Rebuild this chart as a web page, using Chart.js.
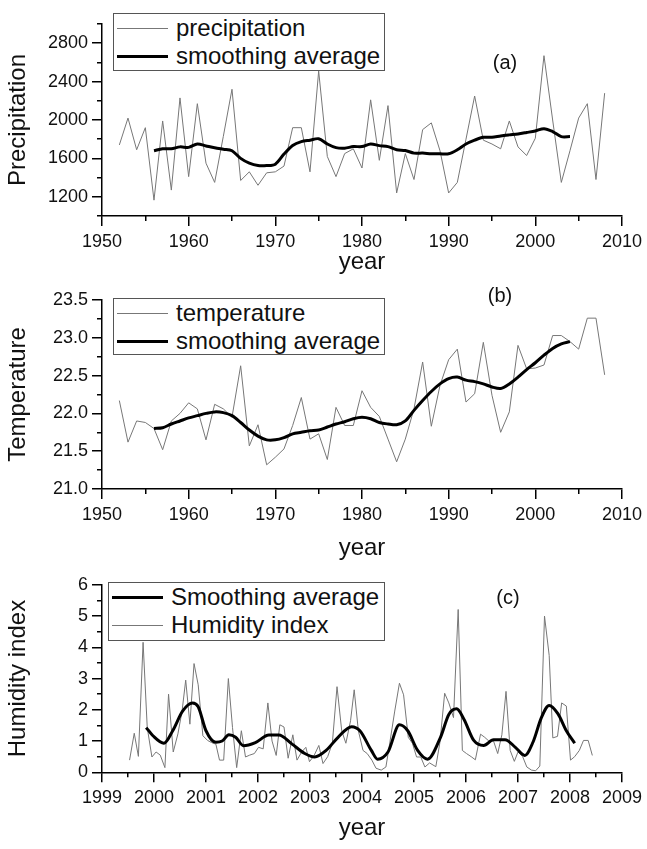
<!DOCTYPE html>
<html>
<head>
<meta charset="utf-8">
<script src="https://cdn.jsdelivr.net/npm/chart.js@4.4.1/dist/chart.umd.min.js"></script>
<style>
  body { margin: 0; background: #fff; }
  #wrap { position: relative; width: 647px; height: 849px; font-family: "Liberation Sans", Arial, sans-serif; }
  canvas { position: absolute; left: 0; }
  .legend { position: absolute; border: 1px solid #555; background: #fff; font-size: 24px; color: #111; }
  .row { display: flex; align-items: center; height: 28px; }
  .sample { width: 51px; margin: 0 8px 0 3px; }
  .thin { border-top: 1px solid #777; }
  .thick { border-top: 3px solid #000; }
  .tag { position: absolute; font-size: 20px; color: #111; transform: translate(-50%, -50%); }
</style>
</head>
<body>
<div id="wrap">
  <canvas id="chartA" width="647" height="285" style="top:0"></canvas>
  <canvas id="chartB" width="647" height="285" style="top:285px"></canvas>
  <canvas id="chartC" width="647" height="279" style="top:570px"></canvas>

  <div class="legend" style="left:113px; top:13px; width:270px; height:56px;">
    <div class="row"><div class="sample thin"></div>precipitation</div>
    <div class="row"><div class="sample thick"></div>smoothing average</div>
  </div>
  <div class="legend" style="left:113px; top:298px; width:270px; height:55px;">
    <div class="row"><div class="sample thin"></div>temperature</div>
    <div class="row"><div class="sample thick"></div>smoothing average</div>
  </div>
  <div class="legend" style="left:108px; top:582px; width:275px; height:57px;">
    <div class="row"><div class="sample thick"></div>Smoothing average</div>
    <div class="row"><div class="sample thin"></div>Humidity index</div>
  </div>
  <div class="tag" style="left:505px; top:62px;">(a)</div>
  <div class="tag" style="left:500px; top:295px;">(b)</div>
  <div class="tag" style="left:508px; top:597px;">(c)</div>
</div>
<script>
const years = [1952, 1953, 1954, 1955, 1956, 1957, 1958, 1959, 1960, 1961, 1962, 1963, 1964, 1965, 1966, 1967, 1968, 1969, 1970, 1971, 1972, 1973, 1974, 1975, 1976, 1977, 1978, 1979, 1980, 1981, 1982, 1983, 1984, 1985, 1986, 1987, 1988, 1989, 1990, 1991, 1992, 1993, 1994, 1995, 1996, 1997, 1998, 1999, 2000, 2001, 2002, 2003, 2004, 2005, 2006, 2007, 2008];
const smoothYears = [1956, 1957, 1958, 1959, 1960, 1961, 1962, 1963, 1964, 1965, 1966, 1967, 1968, 1969, 1970, 1971, 1972, 1973, 1974, 1975, 1976, 1977, 1978, 1979, 1980, 1981, 1982, 1983, 1984, 1985, 1986, 1987, 1988, 1989, 1990, 1991, 1992, 1993, 1994, 1995, 1996, 1997, 1998, 1999, 2000, 2001, 2002, 2003, 2004];

const precipitation = [1740, 2020, 1690, 1920, 1165, 1990, 1270, 2230, 1410, 2170, 1550, 1350, 1830, 2320, 1370, 1460, 1320, 1450, 1460, 1520, 1920, 1920, 1460, 2510, 1620, 1410, 1650, 1700, 1500, 2210, 1580, 2150, 1240, 1650, 1380, 1900, 1970, 1680, 1240, 1350, 1800, 2250, 1790, 1750, 1700, 1990, 1720, 1630, 1810, 2670, 2000, 1350, 1680, 2020, 2170, 1380, 2280];
const precipSmooth = [1680, 1700, 1700, 1720, 1715, 1750, 1730, 1710, 1695, 1680, 1600, 1550, 1525, 1525, 1540, 1645, 1735, 1775, 1790, 1805, 1750, 1712, 1706, 1723, 1723, 1750, 1733, 1723, 1690, 1682, 1655, 1655, 1648, 1648, 1648, 1690, 1750, 1790, 1820, 1820, 1834, 1845, 1855, 1870, 1886, 1910, 1880, 1827, 1827];

const temperature = [22.17, 21.62, 21.9, 21.88, 21.8, 21.52, 21.9, 22.0, 22.14, 22.06, 21.65, 22.12, 22.06, 21.95, 22.63, 21.57, 21.85, 21.32, 21.42, 21.53, 21.84, 22.21, 21.66, 21.73, 21.39, 22.08, 21.84, 21.84, 22.3, 22.08, 21.96, 21.66, 21.36, 21.66, 22.06, 22.68, 21.83, 22.37, 22.71, 22.85, 22.15, 22.26, 22.94, 22.24, 21.75, 22.02, 22.9, 22.59, 22.6, 22.64, 23.03, 23.03, 22.95, 22.85, 23.26, 23.26, 22.51];
const tempSmooth = [21.80, 21.81, 21.86, 21.90, 21.94, 21.97, 22.00, 22.02, 22.01, 21.97, 21.88, 21.78, 21.70, 21.65, 21.65, 21.68, 21.73, 21.75, 21.77, 21.78, 21.82, 21.86, 21.89, 21.93, 21.95, 21.93, 21.88, 21.86, 21.85, 21.90, 22.04, 22.17, 22.29, 22.39, 22.46, 22.48, 22.44, 22.42, 22.39, 22.35, 22.33, 22.39, 22.48, 22.58, 22.67, 22.77, 22.86, 22.92, 22.95];

const humidityX = [1999.53, 1999.62, 1999.70, 1999.79, 1999.87, 1999.96, 2000.04, 2000.12, 2000.21, 2000.28, 2000.37, 2000.46, 2000.54, 2000.61, 2000.69, 2000.77, 2000.85, 2000.94, 2001.03, 2001.11, 2001.19, 2001.26, 2001.34, 2001.43, 2001.51, 2001.59, 2001.68, 2001.76, 2001.84, 2001.93, 2002.01, 2002.10, 2002.19, 2002.27, 2002.35, 2002.42, 2002.50, 2002.58, 2002.67, 2002.75, 2002.84, 2002.92, 2002.99, 2003.08, 2003.17, 2003.25, 2003.34, 2003.43, 2003.52, 2003.61, 2003.69, 2003.78, 2003.85, 2003.93, 2004.02, 2004.10, 2004.19, 2004.27, 2004.37, 2004.46, 2004.54, 2004.63, 2004.72, 2004.80, 2004.89, 2004.97, 2005.05, 2005.13, 2005.21, 2005.30, 2005.42, 2005.50, 2005.59, 2005.67, 2005.76, 2005.85, 2005.93, 2006.01, 2006.10, 2006.18, 2006.28, 2006.36, 2006.44, 2006.53, 2006.61, 2006.69, 2006.77, 2006.85, 2006.93, 2007.00, 2007.09, 2007.17, 2007.26, 2007.34, 2007.42, 2007.51, 2007.60, 2007.67, 2007.76, 2007.84, 2007.93, 2008.01, 2008.09, 2008.18, 2008.26, 2008.35, 2008.43];
const humidity = [0.39, 1.25, 0.51, 4.16, 1.43, 0.49, 0.65, 0.55, 0.15, 2.5, 0.65, 1.23, 1.96, 2.95, 1.54, 3.48, 2.8, 1.17, 1.02, 0.95, 0.9, 0.39, 0.39, 3.0, 1.43, 0.15, 1.33, 0.49, 0.55, 0.6, 0.8, 0.75, 2.22, 1.0, 0.54, 1.52, 1.45, 0.45, 1.2, 0.39, 0.65, 0.8, 0.34, 0.54, 0.86, 0.28, 0.5, 0.93, 2.74, 1.33, 0.93, 1.65, 2.64, 1.33, 0.7, 0.6, 0.39, 0.13, 0.07, 0.17, 1.0, 1.96, 2.85, 2.48, 1.12, 0.93, 0.49, 0.49, 0.17, 0.3, 0.18, 0.97, 2.53, 2.22, 1.75, 5.21, 0.7, 0.6, 0.5, 0.4, 1.22, 1.12, 1.0, 1.0, 0.6, 1.2, 2.59, 0.7, 0.35, 0.65, 0.5, 0.17, 0.07, 0.05, 0.2, 5.0, 3.74, 1.1, 1.15, 2.22, 2.12, 0.39, 0.5, 0.7, 1.02, 1.02, 0.54];
const humSmoothX = [1999.85, 1999.98, 2000.19, 2000.36, 2000.55, 2000.74, 2000.85, 2001.00, 2001.19, 2001.31, 2001.44, 2001.57, 2001.72, 2001.95, 2002.21, 2002.40, 2002.65, 2002.90, 2003.09, 2003.31, 2003.54, 2003.80, 2003.96, 2004.18, 2004.30, 2004.50, 2004.72, 2004.88, 2005.07, 2005.26, 2005.51, 2005.67, 2005.82, 2005.96, 2006.15, 2006.34, 2006.53, 2006.75, 2006.95, 2007.13, 2007.29, 2007.45, 2007.60, 2007.77, 2007.93, 2008.09];
const humSmooth = [1.43, 1.17, 0.93, 1.33, 1.96, 2.22, 2.10, 1.33, 0.96, 1.0, 1.2, 1.12, 0.85, 0.95, 1.19, 1.19, 0.91, 0.6, 0.49, 0.7, 1.12, 1.46, 1.33, 0.7, 0.42, 0.65, 1.52, 1.33, 0.7, 0.42, 1.12, 1.85, 2.03, 1.7, 1.02, 0.86, 1.04, 1.04, 0.8, 0.54, 0.97, 1.75, 2.14, 1.87, 1.33, 0.93];

// tick positions
const yearTicks = [1950, 1960, 1970, 1980, 1990, 2000, 2010];
const yearMinor = [1955, 1965, 1975, 1985, 1995, 2005];
const precipTicks = [1200, 1600, 2000, 2400, 2800];
const precipMinor = [1000, 1400, 1800, 2200, 2600, 3000];
const tempTicks = [21.0, 21.5, 22.0, 22.5, 23.0, 23.5];
const tempMinor = [21.25, 21.75, 22.25, 22.75, 23.25];
const humYearTicks = [1999, 2000, 2001, 2002, 2003, 2004, 2005, 2006, 2007, 2008, 2009];
const humYearMinor = [1999.5, 2000.5, 2001.5, 2002.5, 2003.5, 2004.5, 2005.5, 2006.5, 2007.5, 2008.5];
const humTicks = [0, 1, 2, 3, 4, 5, 6];
const humMinor = [0.5, 1.5, 2.5, 3.5, 4.5, 5.5];

const FONT = "'Liberation Sans', Arial, sans-serif";

function pairs(xs, ys) {
  return xs.map((x, i) => ({ x: x, y: ys[i] }));
}

function setTicks(list) {
  return (scale) => { scale.ticks = list.map((v) => ({ value: v })); };
}

function buildChart(id, opt) {
  const xMajor = {
    type: "linear", position: "bottom", weight: 1,
    min: opt.xMin, max: opt.xMax,
    afterBuildTicks: setTicks(opt.xTicks),
    afterFit: (s) => { s.height = opt.xHeight; },
    grid: { drawOnChartArea: false, tickLength: 10, tickColor: "#000", lineWidth: 1.5 },
    border: { color: "#000", width: 1.5 },
    ticks: { color: "#111", font: { family: FONT, size: 18 }, padding: 5, maxRotation: 0, callback: (v) => String(v) },
    title: { display: true, text: "year", color: "#111", font: { family: FONT, size: 24 }, padding: { bottom: opt.xTitlePad } },
  };
  const xMinor = {
    type: "linear", position: "bottom", weight: 0,
    min: opt.xMin, max: opt.xMax,
    afterBuildTicks: setTicks(opt.xMinor),
    afterFit: (s) => { s.height = 0; },
    grid: { drawOnChartArea: false, tickLength: 5, tickColor: "#000", lineWidth: 1.5 },
    border: { display: false },
    ticks: { display: false },
  };
  const yMajor = {
    type: "linear", position: "left", weight: 1,
    min: opt.yMin, max: opt.yMax,
    afterBuildTicks: setTicks(opt.yTicks),
    afterFit: (s) => { s.width = 102; },
    grid: { drawOnChartArea: false, tickLength: 10, tickColor: "#000", lineWidth: 1.5 },
    border: { color: "#000", width: 1.5 },
    ticks: { color: "#111", font: { family: FONT, size: 18 }, padding: 4, callback: opt.yFormat },
    title: { display: true, text: opt.yTitle, color: "#111", font: { family: FONT, size: 24 }, padding: { top: 4 } },
  };
  const yMinor = {
    type: "linear", position: "left", weight: 0,
    min: opt.yMin, max: opt.yMax,
    afterBuildTicks: setTicks(opt.yMinor),
    afterFit: (s) => { s.width = 0; },
    grid: { drawOnChartArea: false, tickLength: 5, tickColor: "#000", lineWidth: 1.5 },
    border: { display: false },
    ticks: { display: false },
  };

  return new Chart(document.getElementById(id), {
    type: "line",
    data: { datasets: opt.datasets },
    options: {
      responsive: false,
      animation: false,
      layout: { padding: { top: opt.padTop, right: 21, left: 0, bottom: 0 } },
      plugins: { legend: { display: false }, tooltip: { enabled: false } },
      scales: { x: xMajor, x2: xMinor, y: yMajor, y2: yMinor },
    },
  });
}

buildChart("chartA", {
  xMin: 1950, xMax: 2010, xTicks: yearTicks, xMinor: yearMinor, xHeight: 69, xTitlePad: 8,
  yMin: 1000, yMax: 3000, yTicks: precipTicks, yMinor: precipMinor, yTitle: "Precipitation",
  yFormat: (v) => String(v), padTop: 24,
  datasets: [
    { label: "smoothing average", data: pairs(smoothYears, precipSmooth), borderColor: "#000", borderWidth: 3, pointRadius: 0, tension: 0.3, xAxisID: "x", yAxisID: "y" },
    { label: "precipitation", data: pairs(years, precipitation), borderColor: "#777", borderWidth: 1, pointRadius: 0, tension: 0, xAxisID: "x", yAxisID: "y" },
  ],
});

buildChart("chartB", {
  xMin: 1950, xMax: 2010, xTicks: yearTicks, xMinor: yearMinor, xHeight: 81, xTitlePad: 7,
  yMin: 21, yMax: 23.5, yTicks: tempTicks, yMinor: tempMinor, yTitle: "Temperature",
  yFormat: (v) => v.toFixed(1), padTop: 15,
  datasets: [
    { label: "smoothing average", data: pairs(smoothYears, tempSmooth), borderColor: "#000", borderWidth: 3, pointRadius: 0, tension: 0.3, xAxisID: "x", yAxisID: "y" },
    { label: "temperature", data: pairs(years, temperature), borderColor: "#777", borderWidth: 1, pointRadius: 0, tension: 0, xAxisID: "x", yAxisID: "y" },
  ],
});

buildChart("chartC", {
  xMin: 1999, xMax: 2009, xTicks: humYearTicks, xMinor: humYearMinor, xHeight: 76.7, xTitlePad: 6,
  yMin: 0, yMax: 6, yTicks: humTicks, yMinor: humMinor, yTitle: "Humidity index",
  yFormat: (v) => String(v), padTop: 11.7,
  datasets: [
    { label: "Smoothing average", data: pairs(humSmoothX, humSmooth), borderColor: "#000", borderWidth: 3, pointRadius: 0, cubicInterpolationMode: "monotone", xAxisID: "x", yAxisID: "y" },
    { label: "Humidity index", data: pairs(humidityX, humidity), borderColor: "#777", borderWidth: 1, pointRadius: 0, tension: 0, xAxisID: "x", yAxisID: "y" },
  ],
});
</script>
</body>
</html>
